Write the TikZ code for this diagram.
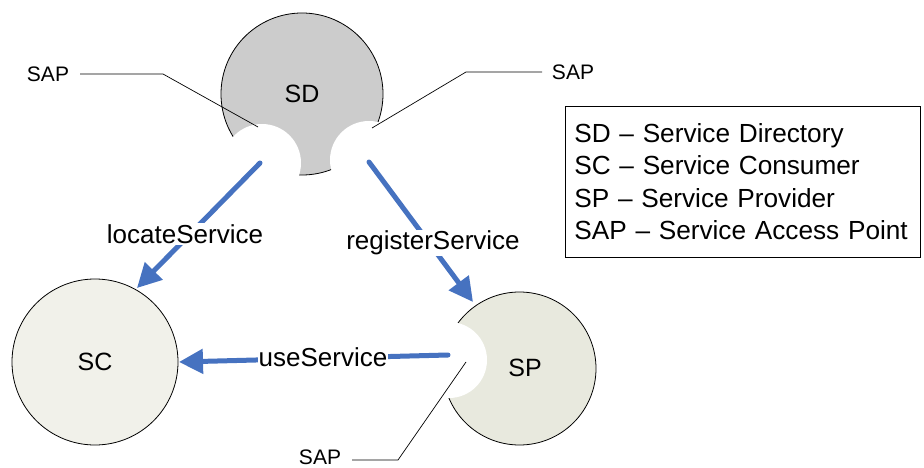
\documentclass[tikz,border=0pt]{standalone}
\usepackage{fontspec}
\setmainfont{Liberation Sans}
\usetikzlibrary{arrows.meta}
\definecolor{arrowblue}{HTML}{4672C0}
\definecolor{sdgray}{HTML}{CCCCCC}
\definecolor{scfill}{HTML}{F1F1EA}
\definecolor{spfill}{HTML}{E8E9DE}
\begin{document}
\begin{tikzpicture}[x=1pt,y=-1pt,
  ent/.style={circle,draw=black,line width=0.8pt,inner sep=0pt,font=\fontsize{25}{30}\selectfont},
  bite/.style={circle,fill=white,inner sep=0pt,minimum size=78pt},
  flow/.style={draw=arrowblue,line width=5pt,line cap=round,-{Triangle[length=24pt,width=24pt]}},
  flowlabel/.style={fill=white,inner sep=1pt,font=\fontsize{26}{30}\selectfont},
  saplabel/.style={inner sep=0pt,font=\fontsize{21}{25}\selectfont},
  leader/.style={draw=black,line width=0.7pt}]
\useasboundingbox (0,0) rectangle (924,468);
% entities
\node (SD) [ent,fill=sdgray,minimum size=162pt] at (302,94) {};
\node (SC) [ent,fill=scfill,minimum size=166pt] at (95,362) {SC};
\node (SP) [ent,fill=spfill,minimum size=153pt] at (519.5,368.5) {};
% access point bites
\node (bL) [bite] at (262,163) {};
\node (bR) [bite] at (369,160) {};
\node (bP) [bite,minimum size=76pt] at (449,360) {};
\node (SDt) [font=\fontsize{25}{30}\selectfont] at (302,94) {SD};
\node (SPt) [font=\fontsize{25}{30}\selectfont] at (525,368) {SP};
% arrow endpoints
\coordinate (l1) at (260,163); \coordinate (l2) at (137,288);
\coordinate (r1) at (369,162); \coordinate (r2) at (473,302);
\coordinate (u1) at (448,355); \coordinate (u2) at (179,362);
\draw[flow] (l1) -- (l2);
\draw[flow] (r1) -- (r2);
\draw[flow] (u1) -- (u2);
\node (locL) [flowlabel] at (185,234) {locateService};
\node (regL) [flowlabel] at (433,243) {registerService};
\node (useL) [flowlabel] at (323,357) {useService};
% SAP labels and leaders
\node (sap1) [saplabel] at (48,74) {SAP};
\node (sap2) [saplabel] at (573,72) {SAP};
\node (sap3) [saplabel] at (320,457) {SAP};
\coordinate (s1) at (80,74); \coordinate (k1) at (163,74); \coordinate (e1) at (258,127);
\coordinate (s2) at (542,72); \coordinate (k2) at (466,72); \coordinate (e2) at (372,128);
\coordinate (s3) at (352,460); \coordinate (k3) at (398,460); \coordinate (e3) at (466,362);
\draw[leader] (s1) -- (k1) -- (e1);
\draw[leader] (s2) -- (k2) -- (e2);
\draw[leader] (s3) -- (k3) -- (e3);
% legend
\node (legend) [draw=black,line width=0.7pt,anchor=north west,text width=337pt,inner xsep=9pt,inner ysep=4pt,minimum height=151pt,align=left,font=\fontsize{26.2}{32.5}\selectfont] at (565,106)
 {SD – Service Directory\\SC – Service Consumer\\SP – Service Provider\\SAP – Service Access Point};
\end{tikzpicture}
\end{document}
